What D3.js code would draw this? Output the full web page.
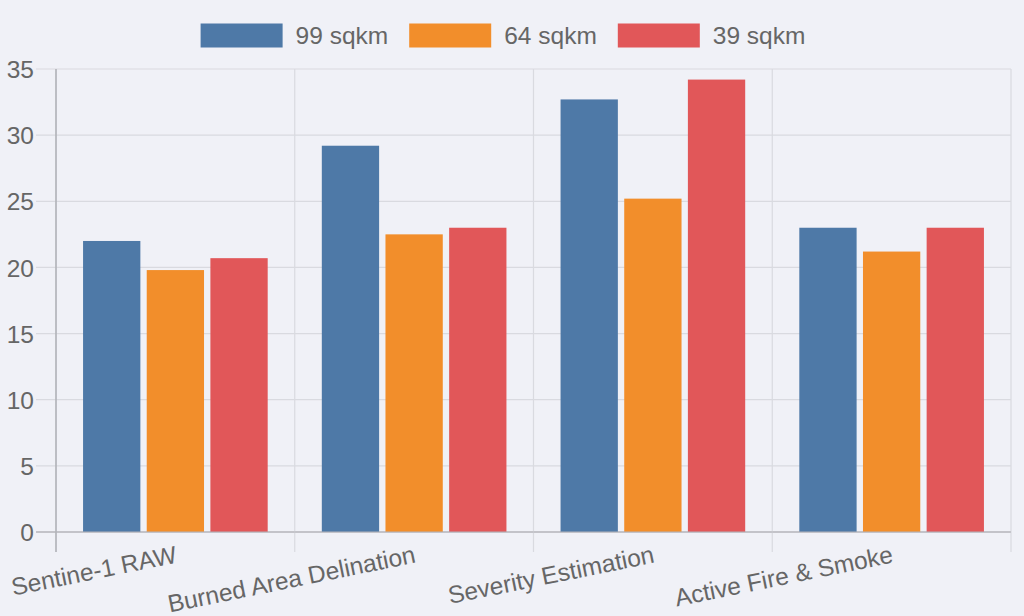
<!DOCTYPE html>
<html>
<head>
<meta charset="utf-8">
<script src="https://cdn.jsdelivr.net/npm/d3@7/dist/d3.min.js"></script>
<style>
  html, body { margin: 0; padding: 0; background: #f0f1f7; }
  svg { display: block; }
  text { font-family: "Liberation Sans", Arial, Helvetica, sans-serif; fill: #666; }
</style>
</head>
<body>
<svg id="chart" width="1024" height="616"></svg>
<script>
// ---- data ----
const categories = ["Sentine-1 RAW", "Burned Area Delination", "Severity Estimation", "Active Fire & Smoke"];
const seriesNames = ["99 sqkm", "64 sqkm", "39 sqkm"];
const series99 = [22, 29.2, 32.7, 23];
const series64 = [19.8, 22.5, 25.2, 21.2];
const series39 = [20.7, 23, 34.2, 23];
const yTicks = [0, 5, 10, 15, 20, 25, 30, 35];
const colors = ["#4e79a7", "#f28e2b", "#e15759"];

const seriesValues = [series99, series64, series39];

const W = 1024, H = 616;
const pLeft = 56, pRight = 1011, pTop = 69, pBottom = 532;
const tickLen = 20;
const fs = 24.5;

const svg = d3.select("#chart");
svg.append("rect").attr("width", W).attr("height", H).attr("fill", "#f0f1f7");

const x = d3.scaleBand().domain(categories).range([pLeft, pRight]).padding(0);
const cw = x.bandwidth();
const xs = d3.scaleBand().domain(seriesNames)
  .range([cw * 0.1, cw * 0.9]).paddingInner(0.1).paddingOuter(0.05);
const y = d3.scaleLinear().domain([0, 35]).range([pBottom, pTop]);

// horizontal grid
const grid = svg.append("g");
grid.selectAll("line.h").data(yTicks).join("line").attr("class", "h")
  .attr("x1", pLeft - tickLen).attr("x2", pRight)
  .attr("y1", d => y(d)).attr("y2", d => y(d))
  .attr("stroke", d => d === 0 ? "#b3b4ba" : "#d9dae0").attr("stroke-width", 1.2);
// vertical grid at category boundaries
const bounds = categories.map(c => x(c)).concat([pRight]);
grid.selectAll("line.v").data(bounds).join("line").attr("class", "v")
  .attr("x1", d => d).attr("x2", d => d)
  .attr("y1", pTop).attr("y2", pBottom + tickLen)
  .attr("stroke", (d, i) => i === 0 ? "#b3b4ba" : "#d9dae0").attr("stroke-width", 1.2);

// bars
const data = [];
categories.forEach((c, ci) => seriesNames.forEach((s, si) => {
  data.push({ c, s, si, v: seriesValues[si][ci] });
}));
svg.append("g").selectAll("rect").data(data).join("rect")
  .attr("x", d => x(d.c) + xs(d.s))
  .attr("width", xs.bandwidth())
  .attr("y", d => y(d.v))
  .attr("height", d => pBottom - y(d.v))
  .attr("fill", d => colors[d.si]);

// zero line & left axis on top
svg.append("line").attr("x1", pLeft - tickLen).attr("x2", pRight).attr("y1", pBottom).attr("y2", pBottom)
  .attr("stroke", "#b3b4ba").attr("stroke-width", 1.2);
svg.append("line").attr("x1", pLeft).attr("x2", pLeft).attr("y1", pTop).attr("y2", pBottom + tickLen)
  .attr("stroke", "#b3b4ba").attr("stroke-width", 1.2);

// y axis labels
const yAxis = d3.axisLeft(y).tickValues(yTicks).tickSize(0).tickPadding(0);
const yg = svg.append("g").attr("transform", `translate(${pLeft - 22},0)`).call(yAxis);
yg.select(".domain").remove();
yg.selectAll("text").attr("font-size", fs).attr("fill", "#666")
  .style("font-family", '"Liberation Sans", Arial, sans-serif').attr("dy", "0.35em");

// x axis labels (rotated)
const xAxis = d3.axisBottom(x).tickSize(0).tickPadding(0);
const xg = svg.append("g").call(xAxis);
xg.select(".domain").remove();
xg.selectAll(".tick").attr("transform", d => `translate(${x(d) + cw / 2 - 1},545)`);
xg.selectAll(".tick text")
  .attr("y", 0).attr("dy", "0.72em")
  .attr("text-anchor", "end")
  .attr("transform", "rotate(-11.5)")
  .attr("font-size", fs).attr("fill", "#666")
  .style("font-family", '"Liberation Sans", Arial, sans-serif');

// legend
const lg = svg.append("g");
const items = lg.selectAll("g").data(seriesNames).join("g");
items.append("rect").attr("width", 82).attr("height", 24).attr("y", 23.5)
  .attr("fill", (d, i) => colors[i]);
items.append("text").attr("x", 95).attr("y", 35.5).attr("dy", "0.35em")
  .attr("font-size", fs).attr("fill", "#666").text(d => d);
const offs = [];
let acc = 0;
items.each(function () {
  offs.push(acc);
  const tl = d3.select(this).select("text").node().getComputedTextLength();
  acc += 95 + tl + 21;
});
const total = acc - 21;
const startX = 503 - total / 2;
items.attr("transform", (d, i) => `translate(${startX + offs[i]},0)`);
</script>
</body>
</html>
